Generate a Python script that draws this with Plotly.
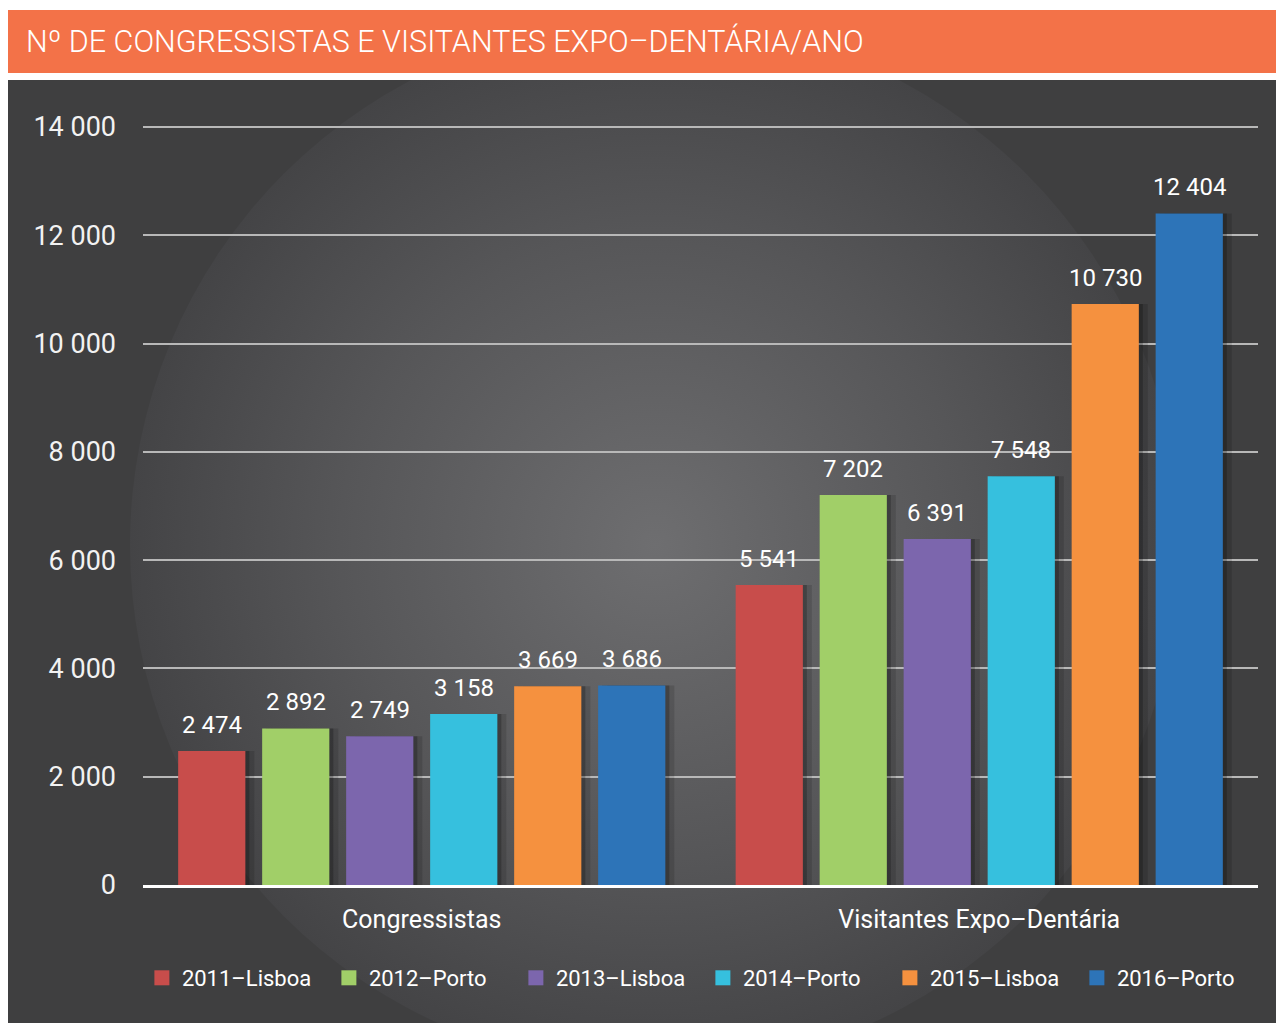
import base64
import plotly.graph_objects as go

# ---------------- data ----------------
categories = ["Congressistas", "Visitantes Expo–Dentária"]
series_names = ["2011–Lisboa", "2012–Porto", "2013–Lisboa", "2014–Porto", "2015–Lisboa", "2016–Porto"]
congressistas = [2474, 2892, 2749, 3158, 3669, 3686]
visitantes = [5541, 7202, 6391, 7548, 10730, 12404]
colors = ["#C84D4B", "#A1CF68", "#7C66AD", "#36C0DE", "#F5913F", "#2D74B8"]
tick_vals = [0, 2000, 4000, 6000, 8000, 10000, 12000, 14000]
tick_text = ["0", "2 000", "4 000", "6 000", "8 000", "10 000", "12 000", "14 000"]
title_text = "Nº DE CONGRESSISTAS E VISITANTES EXPO–DENTÁRIA/ANO"

W, H = 1276, 1023
Y0_PX, YTOP_PX, YTOP_VAL = 885, 127, 14000  # pixel rows of 0 and 14 000
ML, MR, MT = 143, 18, 121
MB = H - Y0_PX
PW, PH = W - ML - MR, H - MT - MB
RANGE_TOP = (Y0_PX - MT) * YTOP_VAL / (Y0_PX - YTOP_PX)
BARGAP, GROUPGAP = 0.096, 0.2
PX_PER_CAT = PW / len(categories)


def fmt(v):
    return f"{v:,}".replace(",", " ")


# ---------------- background (svg) ----------------
svg = f"""<svg xmlns='http://www.w3.org/2000/svg' width='{W}' height='{H}' viewBox='0 0 {W} {H}'>
<defs><radialGradient id='g' cx='655' cy='545' r='525' gradientUnits='userSpaceOnUse'>
<stop offset='0' stop-color='#6e6e70'/><stop offset='0.6' stop-color='#565658'/><stop offset='1' stop-color='#444446'/></radialGradient>
<clipPath id='c'><rect x='8' y='80' width='{W-8}' height='{H-80}'/></clipPath></defs>
<rect width='{W}' height='{H}' fill='#ffffff'/>
<rect x='8' y='10' width='{W-8}' height='63' fill='#F37248'/>
<rect x='8' y='80' width='{W-8}' height='{H-80}' fill='#3f3f40'/>
<circle cx='655' cy='545' r='525' fill='url(#g)' clip-path='url(#c)'/>
</svg>"""
src = "data:image/svg+xml;base64," + base64.b64encode(svg.encode()).decode()

fig = go.Figure()
# soft drop shadows: two offset layers drawn beneath the bars
shadow_layers = [("x", 9, "rgba(0,0,0,0.13)"), ("x2", 4, "rgba(0,0,0,0.22)")]
for axis, _, scol in shadow_layers:
    for name, v1, v2 in zip(series_names, congressistas, visitantes):
        fig.add_trace(go.Bar(x=categories, y=[v1, v2], xaxis=axis, marker=dict(color=scol, line=dict(width=0)),
                             hoverinfo="skip", showlegend=False))
for name, c, v1, v2 in zip(series_names, colors, congressistas, visitantes):
    fig.add_trace(go.Bar(x=categories, y=[v1, v2], name=name, xaxis="x3",
                         marker=dict(color=c, line=dict(width=0)), hoverinfo="skip", showlegend=False))
# legend swatches (square markers)
for name, c in zip(series_names, colors):
    fig.add_trace(go.Scatter(x=[None], y=[None], xaxis="x3", mode="markers", name=name,
                             marker=dict(symbol="square", size=15, color=c), showlegend=True))

annotations = []
n = len(series_names)
slot = (1 - BARGAP) / n
for i in range(n):
    for j, vals in enumerate([congressistas, visitantes]):
        annotations.append(dict(x=j + (i - (n - 1) / 2) * slot, y=vals[i], xref="x3", yref="y",
                                text=fmt(vals[i]), showarrow=False, yanchor="bottom", yshift=10,
                                font=dict(family="Roboto", size=24, color="#ffffff")))
annotations.append(dict(x=(24 - ML) / PW, y=(MT + PH - 41) / PH, xref="paper", yref="paper",
                        text=title_text, showarrow=False, xanchor="left", yanchor="middle",
                        font=dict(family="Roboto", size=30.5, color="#ffffff", weight=300)))

base_range = [-0.5, len(categories) - 0.5]


def shifted(px):
    d = px / PX_PER_CAT
    return [base_range[0] - d, base_range[1] - d]


hidden = dict(showline=False, showgrid=False, showticklabels=False, ticks="", zeroline=False)

fig.update_layout(
    width=W, height=H,
    margin=dict(l=ML, r=MR, t=MT, b=MB, pad=0),
    paper_bgcolor="#ffffff", plot_bgcolor="rgba(0,0,0,0)",
    barmode="group", bargap=BARGAP, bargroupgap=GROUPGAP,
    showlegend=True,
    legend=dict(orientation="h", x=-0.001, xanchor="left", y=(Y0_PX - 978) / PH, yanchor="middle",
                font=dict(family="Roboto", size=22, color="#ffffff"), bgcolor="rgba(0,0,0,0)",
                entrywidth=142, entrywidthmode="pixels", traceorder="normal", itemsizing="trace"),
    images=[dict(source=src, xref="paper", yref="paper", x=-ML / PW, y=(PH + MT) / PH,
                 sizex=W / PW, sizey=H / PH, sizing="stretch", xanchor="left", yanchor="top",
                 layer="below")],
    annotations=annotations,
    xaxis=dict(range=shifted(shadow_layers[0][1]), type="category", **hidden),
    xaxis2=dict(range=shifted(shadow_layers[1][1]), type="category", overlaying="x", **hidden),
    xaxis3=dict(range=base_range, type="category", overlaying="x", showline=True, linecolor="#ffffff",
                linewidth=3, showgrid=False, ticks="", zeroline=False,
                tickfont=dict(family="Roboto", size=25, color="#ffffff"), ticklabelstandoff=10),
    yaxis=dict(range=[0, RANGE_TOP], tickvals=tick_vals, ticktext=tick_text, showgrid=True,
               gridcolor="#b8b8b8", gridwidth=1.5, zeroline=False, showline=False, ticks="",
               tickfont=dict(family="Roboto", size=27, color="#f2f2f2"), ticklabelstandoff=26),
    font=dict(family="Roboto"),
)

fig.write_html("out.html", config={"displayModeBar": False},
               post_script="document.body.style.margin='0';document.body.style.overflow='hidden';")
